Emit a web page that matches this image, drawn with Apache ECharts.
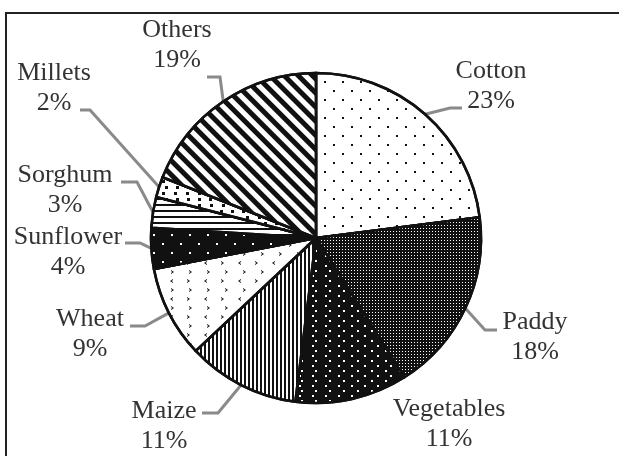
<!DOCTYPE html>
<html>
<head>
<meta charset="utf-8">
<script src="https://cdn.jsdelivr.net/npm/echarts@6/dist/echarts.min.js"></script>
<style>
  html, body { margin: 0; padding: 0; background: #fff; }
  #main { width: 619px; height: 456px; }
</style>
</head>
<body>
<div id="main"></div>
<script>
// crop shares (%), clockwise from 12 o'clock
var crops = ['Cotton', 'Paddy', 'Vegetables', 'Maize', 'Wheat', 'Sunflower', 'Sorghum', 'Millets', 'Others'];
var shares = [23, 18, 11, 11, 9, 4, 3, 2, 19];

var INK = '#111';
var WHITE = '#fff';

// fill pattern per slice (background colour + decal)
var fills = [
    { bg: WHITE, decal: { color: INK, symbol: 'rect', symbolSize: 1, dashArrayX: [[1.8, 15.2], [0, 8.5, 1.8, 6.7]], dashArrayY: [1.8, 6.7] } },
    { bg: INK, decal: { color: WHITE, symbol: 'rect', symbolSize: 1, dashArrayX: [1, 2], dashArrayY: [1, 2] } },
    { bg: INK, decal: { color: WHITE, symbol: 'rect', symbolSize: 1, dashArrayX: [[2, 11], [0, 6.5, 2, 4.5]], dashArrayY: [2, 2.2] } },
    { bg: WHITE, decal: { color: INK, symbol: 'rect', symbolSize: 1, dashArrayX: [1.5, 1.9], dashArrayY: [10, 0] } },
    { bg: WHITE, decal: { color: INK, symbol: ['path://M3,0L0,2L3,4L3,2.9L1.6,2L3,1.1Z', 'path://M0,0L3,2L0,4L0,2.9L1.4,2L0,1.1Z'], symbolSize: 1, dashArrayX: [[3, 14], [0, 8.5, 3, 5.5]], dashArrayY: [4, 4.5] } },
    { bg: INK, decal: { color: WHITE, symbol: 'rect', symbolSize: 1, dashArrayX: [[1.8, 15.2], [0, 8.5, 1.8, 6.7]], dashArrayY: [1.8, 6.7] } },
    { bg: WHITE, decal: { color: INK, symbol: 'rect', symbolSize: 1, dashArrayX: [10, 0], dashArrayY: [2, 4] } },
    { bg: WHITE, decal: { color: INK, symbol: 'rect', symbolSize: 1, dashArrayX: [[3, 8], [0, 5.5, 3, 2.5]], dashArrayY: [3, 2.5] } },
    { bg: WHITE, decal: { color: INK, symbol: 'rect', symbolSize: 1, dashArrayX: [10, 0], dashArrayY: [4.5, 5], rotation: Math.PI / 4 } }
];

// where each label sits (block centre) and where its leader line bends / ends
var labelSpots = [
    { c: [491, 86], bend: [450, 108], end: [462, 108] },
    { c: [535, 337], bend: [485, 330], end: [497, 330] },
    { c: [449, 424], bend: null, end: null },
    { c: [164, 426], bend: [218, 413], end: [202, 413] },
    { c: [90, 334], bend: [145, 326], end: [130, 326] },
    { c: [68, 252], bend: [140, 243], end: [125, 243] },
    { c: [65, 190], bend: [137, 182], end: [121, 182] },
    { c: [54, 88], bend: [90, 110], end: [80, 110] },
    { c: [177, 45], bend: [220, 77], end: [207, 77] }
];

var data = crops.map(function (name, i) {
    var item = {
        name: name,
        value: shares[i],
        itemStyle: { color: fills[i].bg, decal: fills[i].decal }
    };
    if (!labelSpots[i].end) {
        item.labelLine = { show: false };
    }
    return item;
});

var chart = echarts.init(document.getElementById('main'));
var option = {
    animation: false,
    backgroundColor: '#fff',
    graphic: [
        { type: 'line', shape: { x1: 5, y1: 13, x2: 619, y2: 13 }, style: { stroke: '#222', lineWidth: 2 } },
        { type: 'line', shape: { x1: 6, y1: 12, x2: 6, y2: 456 }, style: { stroke: '#222', lineWidth: 2 } }
    ],
    series: [{
        type: 'pie',
        center: [316, 238],
        radius: 165,
        startAngle: 90,
        clockwise: true,
        avoidLabelOverlap: false,
        data: data,
        itemStyle: {
            borderColor: INK,
            borderWidth: 2.5
        },
        label: {
            show: true,
            position: 'outside',
            formatter: '{b}\n{c}%',
            fontFamily: 'Liberation Serif',
            fontSize: 26,
            lineHeight: 30,
            color: '#333'
        },
        labelLine: {
            show: true,
            length: 10,
            length2: 10,
            lineStyle: { color: '#8a8a8a', width: 3 }
        },
        emphasis: { disabled: true },
        labelLayout: function (params) {
            var spot = labelSpots[params.dataIndex];
            var out = {
                x: spot.c[0],
                y: spot.c[1],
                align: 'center',
                verticalAlign: 'middle'
            };
            if (spot.end && params.labelLinePoints) {
                var start = params.labelLinePoints[0];
                out.labelLinePoints = [start, spot.bend, spot.end];
            }
            return out;
        }
    }]
};
chart.setOption(option);
</script>
</body>
</html>
